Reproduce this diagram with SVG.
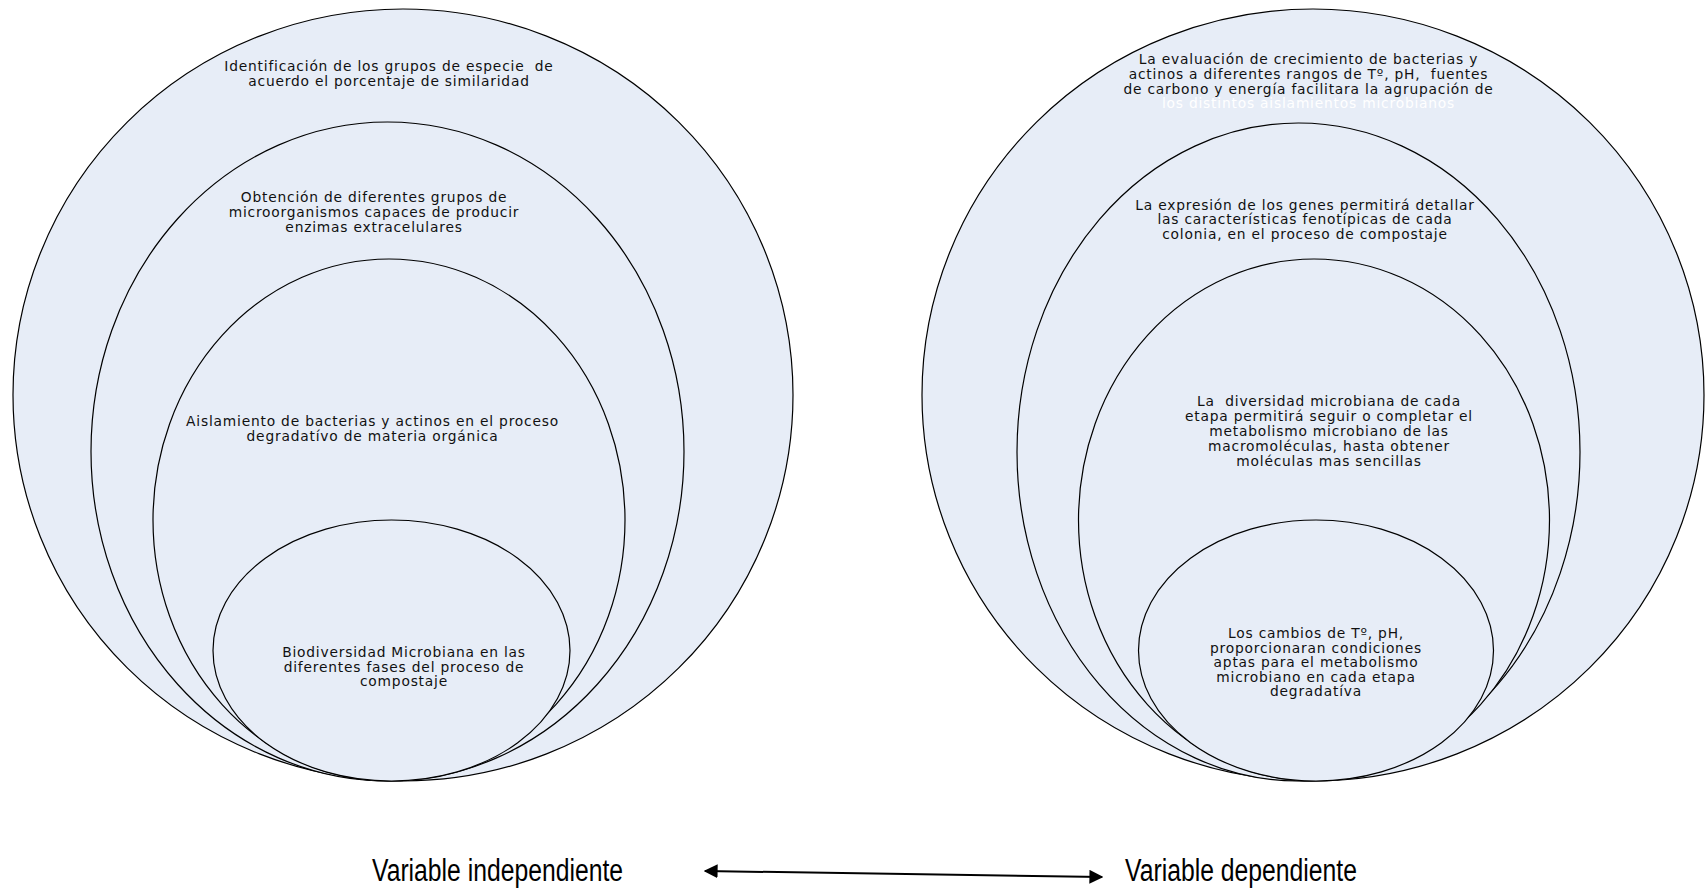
<svg xmlns="http://www.w3.org/2000/svg" width="1705" height="889" viewBox="0 0 1705 889">
<defs>
<style>
.e{fill:#e7edf7;stroke:#000;stroke-width:1.2}
.t{font-family:"DejaVu Sans","Liberation Sans",sans-serif;font-size:13.8px;letter-spacing:0.8px;fill:#111;text-anchor:middle;white-space:pre}
.w{fill:#fff}
.v{font-family:"Liberation Sans",Arial,sans-serif;font-size:31px;fill:#000}
</style>
<marker id="ah" viewBox="0 0 10 10" refX="9" refY="5" markerWidth="7" markerHeight="7" orient="auto-start-reverse" markerUnits="strokeWidth">
<path d="M0,0 L10,5 L0,10 Z" fill="#000"/>
</marker>
</defs>
<rect width="1705" height="889" fill="#fff"/>
<g id="left-1">
<ellipse class="e" cx="403" cy="395" rx="390" ry="386"/>
<text class="t" x="389" y="71">Identificación de los grupos de especie  de</text>
<text class="t" x="389" y="86">acuerdo el porcentaje de similaridad</text>
</g>
<g id="left-2">
<ellipse class="e" cx="387.5" cy="451.5" rx="296.5" ry="329.5"/>
<text class="t" x="374" y="202">Obtención de diferentes grupos de</text>
<text class="t" x="374" y="217">microorganismos capaces de producir</text>
<text class="t" x="374" y="232">enzimas extracelulares</text>
</g>
<g id="left-3">
<ellipse class="e" cx="389" cy="520" rx="236" ry="261"/>
<text class="t" x="372.5" y="426">Aislamiento de bacterias y actinos en el proceso</text>
<text class="t" x="372.5" y="441">degradatívo de materia orgánica</text>
</g>
<g id="left-4">
<ellipse class="e" cx="391.5" cy="650.5" rx="178.5" ry="130.5"/>
<text class="t" x="404" y="657">Biodiversidad Microbiana en las</text>
<text class="t" x="404" y="672">diferentes fases del proceso de</text>
<text class="t" x="404" y="686">compostaje</text>
</g>
<g id="right-1">
<ellipse class="e" cx="1313" cy="395" rx="391" ry="386"/>
<text class="t" x="1308.5" y="64">La evaluación de crecimiento de bacterias y</text>
<text class="t" x="1308.5" y="79">actinos a diferentes rangos de Tº, pH,  fuentes</text>
<text class="t" x="1308.5" y="94">de carbono y energía facilitara la agrupación de</text>
<text class="t w" x="1308.5" y="108">los distintos aislamientos microbianos</text>
</g>
<g id="right-2">
<ellipse class="e" cx="1298.5" cy="452" rx="281.5" ry="329"/>
<text class="t" x="1305" y="210">La expresión de los genes permitirá detallar</text>
<text class="t" x="1305" y="224">las características fenotípicas de cada</text>
<text class="t" x="1305" y="239">colonia, en el proceso de compostaje</text>
</g>
<g id="right-3">
<ellipse class="e" cx="1314" cy="520" rx="235.5" ry="261"/>
<text class="t" x="1329" y="406">La  diversidad microbiana de cada</text>
<text class="t" x="1329" y="421">etapa permitirá seguir o completar el</text>
<text class="t" x="1329" y="436">metabolismo microbiano de las</text>
<text class="t" x="1329" y="451">macromoléculas, hasta obtener</text>
<text class="t" x="1329" y="466">moléculas mas sencillas</text>
</g>
<g id="right-4">
<ellipse class="e" cx="1316" cy="650.5" rx="177.5" ry="130.5"/>
<text class="t" x="1316" y="638">Los cambios de Tº, pH,</text>
<text class="t" x="1316" y="653">proporcionaran condiciones</text>
<text class="t" x="1316" y="667">aptas para el metabolismo</text>
<text class="t" x="1316" y="682">microbiano en cada etapa</text>
<text class="t" x="1316" y="696">degradatíva</text>
</g>
<g id="label-independiente">
<text class="v" x="372" y="881" textLength="251" lengthAdjust="spacingAndGlyphs">Variable independiente</text>
</g>
<g id="label-dependiente">
<text class="v" x="1125" y="881" textLength="232" lengthAdjust="spacingAndGlyphs">Variable dependiente</text>
</g>
<g id="connectors">
<line x1="705" y1="871" x2="1102" y2="877" stroke="#000" stroke-width="2" marker-start="url(#ah)" marker-end="url(#ah)"/>
</g>
</svg>
